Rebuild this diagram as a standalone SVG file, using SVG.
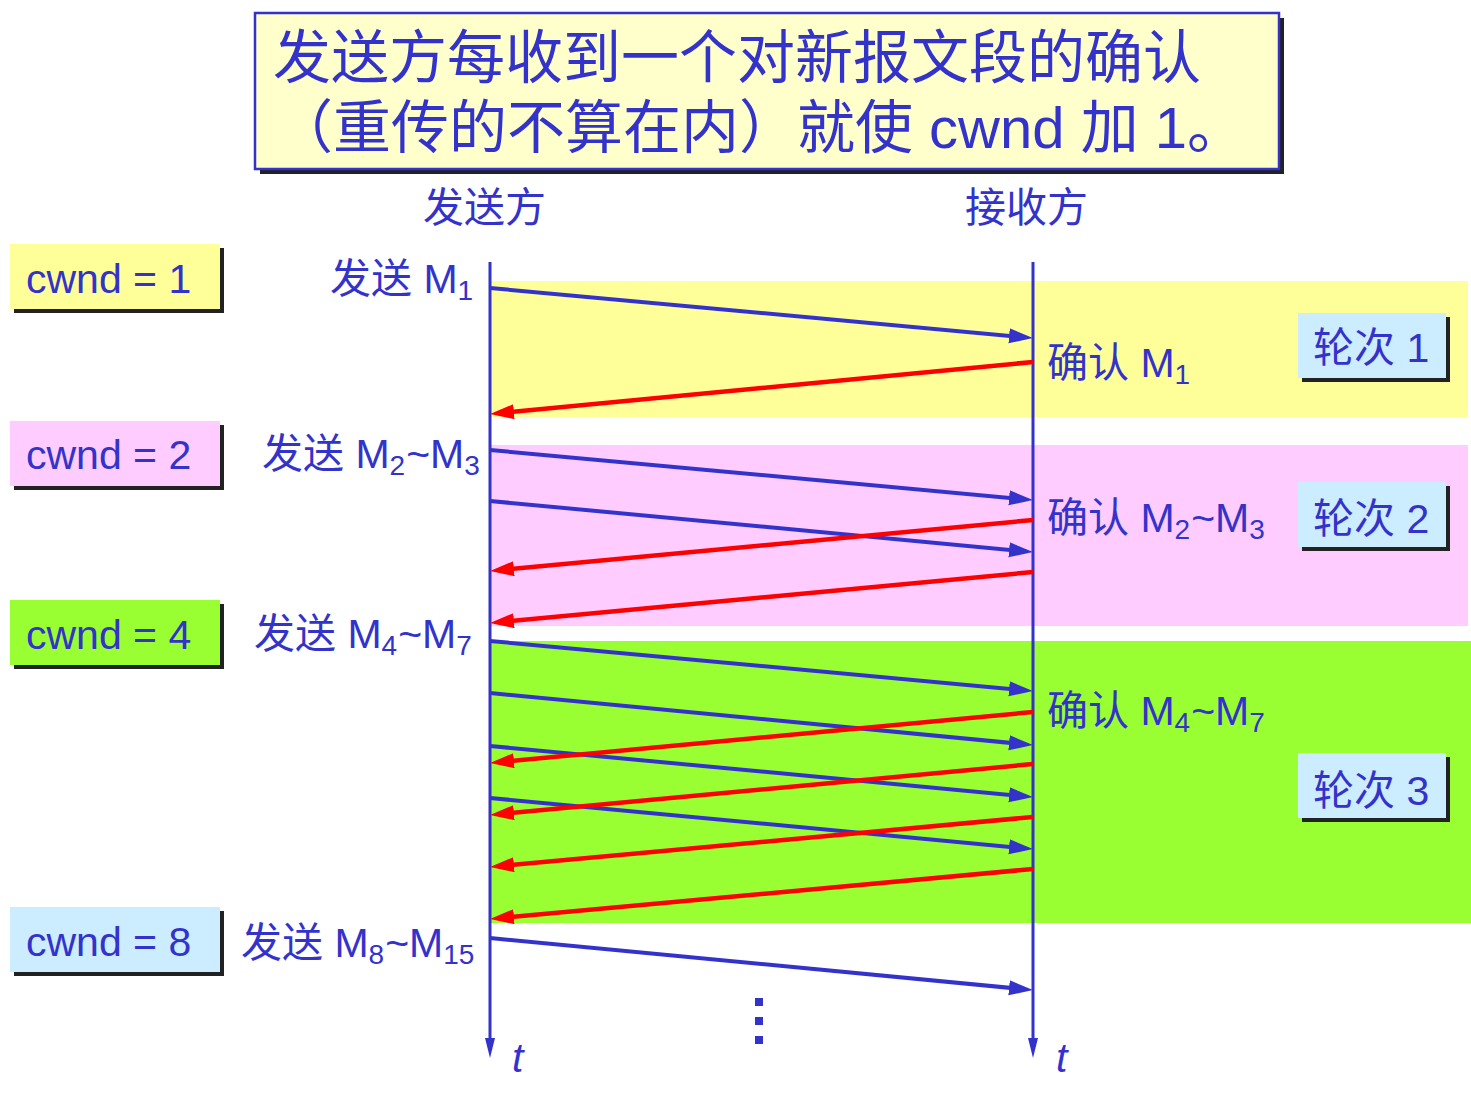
<svg xmlns="http://www.w3.org/2000/svg" width="1471" height="1109" viewBox="0 0 1471 1109">
<style>
text{font-family:"Liberation Sans","Noto Sans CJK SC",sans-serif;fill:#3333CC;}
.t40{font-size:41px;}
.sub{font-size:28px;}
.shadow{fill:#222222;}
.msg{stroke:#3333CC;stroke-width:4;fill:none;marker-end:url(#ab);}
.ack{stroke:#FF0000;stroke-width:4.5;fill:none;marker-end:url(#ar);}
.axis{stroke:#3333CC;stroke-width:3;}
</style>
<defs>
<marker id="ab" markerUnits="userSpaceOnUse" markerWidth="26" markerHeight="16" refX="16" refY="7.5" orient="auto"><path d="M0,0 L24,7.5 L0,15 z" fill="#3333CC"/></marker>
<marker id="ar" markerUnits="userSpaceOnUse" markerWidth="26" markerHeight="16" refX="16" refY="7.5" orient="auto"><path d="M0,0 L24,7.5 L0,15 z" fill="#FF0000"/></marker>
</defs>
<rect width="1471" height="1109" fill="#FFFFFF"/>

<g id="title">
<rect x="260" y="18" width="1024" height="156" class="shadow"/>
<rect x="255" y="13" width="1024" height="156" fill="#FFFFCC" stroke="#3333CC" stroke-width="2.5"/>
<text x="273" y="78" font-size="58">发送方每收到一个对新报文段的确认</text>
<text x="275" y="148" font-size="58">（重传的不算在内）就使 cwnd 加 1。</text>
</g>

<g id="bands">
<rect x="490" y="281" width="978" height="136" fill="#FFFF99"/>
<rect x="490" y="445" width="978" height="181" fill="#FFCCFF"/>
<rect x="490" y="641" width="981" height="282" fill="#99FF33"/>
</g>

<g id="headers">
<text class="t40" x="423" y="222">发送方</text>
<text class="t40" x="965" y="222">接收方</text>
</g>

<g id="cwnd1"><rect x="14" y="248" width="210" height="65" class="shadow"/><rect x="10" y="244" width="210" height="65" fill="#FFFF99"/><text class="t40" x="26" y="293">cwnd = 1</text></g>
<g id="cwnd2"><rect x="14" y="425" width="210" height="65" class="shadow"/><rect x="10" y="421" width="210" height="65" fill="#FFCCFF"/><text class="t40" x="26" y="469">cwnd = 2</text></g>
<g id="cwnd4"><rect x="14" y="604" width="210" height="65" class="shadow"/><rect x="10" y="600" width="210" height="65" fill="#99FF33"/><text class="t40" x="26" y="649">cwnd = 4</text></g>
<g id="cwnd8"><rect x="14" y="911" width="210" height="65" class="shadow"/><rect x="10" y="907" width="210" height="65" fill="#CCECFF"/><text class="t40" x="26" y="956">cwnd = 8</text></g>

<g id="round1"><rect x="1302" y="317" width="148" height="65" class="shadow"/><rect x="1298" y="313" width="148" height="65" fill="#CCECFF"/><text class="t40" x="1313" y="362">轮次 1</text></g>
<g id="round2"><rect x="1302" y="486" width="148" height="65" class="shadow"/><rect x="1298" y="482" width="148" height="65" fill="#CCECFF"/><text class="t40" x="1313" y="533">轮次 2</text></g>
<g id="round3"><rect x="1302" y="757" width="148" height="65" class="shadow"/><rect x="1298" y="753" width="148" height="65" fill="#CCECFF"/><text class="t40" x="1313" y="805">轮次 3</text></g>

<g id="send-labels">
<text class="t40" x="330" y="293">发送 M<tspan class="sub" dy="7">1</tspan></text>
<text class="t40" x="262" y="468">发送 M<tspan class="sub" dy="7">2</tspan><tspan dy="-7" dx="1">~M</tspan><tspan class="sub" dy="7">3</tspan></text>
<text class="t40" x="254" y="648">发送 M<tspan class="sub" dy="7">4</tspan><tspan dy="-7" dx="1">~M</tspan><tspan class="sub" dy="7">7</tspan></text>
<text class="t40" x="241" y="957">发送 M<tspan class="sub" dy="7">8</tspan><tspan dy="-7" dx="1">~M</tspan><tspan class="sub" dy="7">15</tspan></text>
</g>

<g id="ack-labels">
<text class="t40" x="1047" y="377">确认 M<tspan class="sub" dy="7">1</tspan></text>
<text class="t40" x="1047" y="532">确认 M<tspan class="sub" dy="7">2</tspan><tspan dy="-7" dx="1">~M</tspan><tspan class="sub" dy="7">3</tspan></text>
<text class="t40" x="1047" y="725">确认 M<tspan class="sub" dy="7">4</tspan><tspan dy="-7" dx="1">~M</tspan><tspan class="sub" dy="7">7</tspan></text>
</g>

<g id="connectors">
<line class="axis" x1="490" y1="262" x2="490" y2="1040"/>
<path d="M485,1038 L490,1058 L495,1038 z" fill="#3333CC"/>
<line class="axis" x1="1033" y1="262" x2="1033" y2="1040"/>
<path d="M1028,1038 L1033,1058 L1038,1038 z" fill="#3333CC"/>

<line class="msg" x1="490" y1="288" x2="1025" y2="337.3"/>
<line class="ack" x1="1033" y1="362" x2="498" y2="413.2"/>

<line class="msg" x1="490" y1="450" x2="1025" y2="499.3"/>
<line class="msg" x1="490" y1="501" x2="1025" y2="551.3"/>
<line class="ack" x1="1033" y1="520" x2="498" y2="570.2"/>
<line class="ack" x1="1033" y1="572" x2="498" y2="622.2"/>

<line class="msg" x1="490" y1="641" x2="1025" y2="690.3"/>
<line class="msg" x1="490" y1="693" x2="1025" y2="744.3"/>
<line class="msg" x1="490" y1="746" x2="1025" y2="796.3"/>
<line class="msg" x1="490" y1="798" x2="1025" y2="848.3"/>
<line class="ack" x1="1033" y1="712" x2="498" y2="762.2"/>
<line class="ack" x1="1033" y1="764" x2="498" y2="814.2"/>
<line class="ack" x1="1033" y1="817" x2="498" y2="866.2"/>
<line class="ack" x1="1033" y1="869" x2="498" y2="918.2"/>

<line class="msg" x1="490" y1="938" x2="1025" y2="989.3"/>
</g>

<g id="time-labels">
<text class="t40" x="512" y="1072" font-style="italic">t</text>
<text class="t40" x="1056" y="1072" font-style="italic">t</text>
</g>
<g id="ellipsis" fill="#3333CC">
<rect x="755" y="998" width="8" height="8"/>
<rect x="755" y="1017" width="8" height="8"/>
<rect x="755" y="1036" width="8" height="8"/>
</g>
</svg>
